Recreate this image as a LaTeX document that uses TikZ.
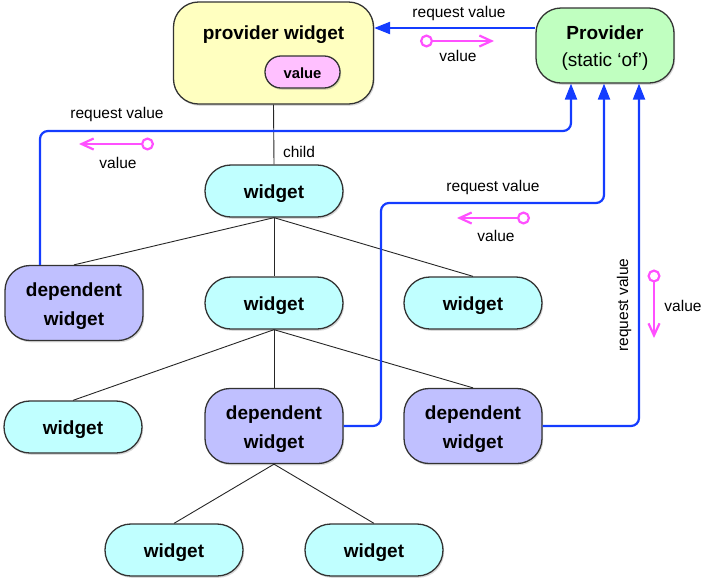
\documentclass[tikz,border=0pt]{standalone}
\usepackage{fontspec}
\setmainfont{Liberation Sans}
\usetikzlibrary{arrows.meta,shadows}
\definecolor{cw}{RGB}{192,255,255}
\definecolor{cd}{RGB}{192,192,255}
\definecolor{cp}{RGB}{192,255,192}
\definecolor{cy}{RGB}{255,255,192}
\definecolor{cv}{RGB}{255,192,255}
\definecolor{cblue}{RGB}{20,60,255}
\definecolor{cpink}{RGB}{255,80,255}
\begin{document}
\begin{tikzpicture}[x=1pt,y=-1pt,
  base/.style={draw=black!80, line width=1.3pt, align=center, inner sep=0pt,
    drop shadow={shadow xshift=1.2pt, shadow yshift=-1.8pt, opacity=0.3}},
  wbox/.style={base, fill=cw, minimum width=138pt, minimum height=52pt,
    rounded corners=25.9pt, font=\bfseries\fontsize{19}{29}\selectfont,
    text height=14.7pt, text depth=0pt},
  dbox/.style={base, fill=cd, minimum width=138pt, minimum height=75pt,
    rounded corners=25pt, font=\bfseries\fontsize{19}{29}\selectfont,
    text height=44pt, text depth=0pt},
  pwbox/.style={base, fill=cy, minimum width=200pt, minimum height=102pt, rounded corners=25pt},
  provbox/.style={base, fill=cp, minimum width=138pt, minimum height=75pt, rounded corners=25pt},
  valbox/.style={base, fill=cv, minimum width=75pt, minimum height=32pt,
    rounded corners=15.9pt, font=\bfseries\fontsize{14.8}{18}\selectfont,
    text height=13.6pt, text depth=0pt},
  title/.style={font=\bfseries\fontsize{19}{23}\selectfont, inner sep=0pt},
  sub/.style={font=\fontsize{19}{23}\selectfont, inner sep=0pt},
  lbl/.style={font=\fontsize{15.5}{18}\selectfont, inner sep=0pt},
  tree/.style={draw=black!85, line width=0.9pt},
  req/.style={draw=cblue, line width=2.2pt, rounded corners=8pt, -{Triangle[length=16pt,width=12pt]}},
  val/.style={draw=cpink, line width=2.2pt, {Circle[open,length=13pt,width=13pt]}-{Straight Barb[length=12pt,width=11pt]}}
]
\useasboundingbox (0,0) rectangle (712,582);

% nodes
\node[pwbox] (pw) at (273.5,53) {};
\node[title] (pwt) at (273.5,34.5) {provider widget};
\node[valbox] (vbox) at (302.5,72) {value};
\node[provbox] (prov) at (605,45.5) {};
\node[title] (provt) at (605,33) {Provider};
\node[sub] (provs) at (605,62) {(static ‘of’)};

\node[wbox] (w1) at (274,191) {widget};
\node[dbox] (depL) at (74,303) {dependent\\widget};
\node[wbox] (wM) at (274,303) {widget};
\node[wbox] (wR) at (473,303) {widget};
\node[wbox] (wBL) at (73,427) {widget};
\node[dbox] (depM) at (274,426) {dependent\\widget};
\node[dbox] (depR) at (473,426) {dependent\\widget};
\node[wbox] (wB1) at (174,550) {widget};
\node[wbox] (wB2) at (374,550) {widget};

% tree
\draw[tree] (pw.south) -- (w1.north);
\node[lbl] (childlbl) at (299,152) {child};
\draw[tree] (w1.south) -- (depL.north);
\draw[tree] (w1.south) -- (wM.north);
\draw[tree] (w1.south) -- (wR.north);
\draw[tree] (wM.south) -- (wBL.north);
\draw[tree] (wM.south) -- (depM.north);
\draw[tree] (wM.south) -- (depR.north);
\draw[tree] (depM.south) -- (wB1.north);
\draw[tree] (depM.south) -- (wB2.north);

% request 1: provider -> provider widget
\draw[req] (prov.west |- 0,28) -- (pw.east |- 0,28);
\node[lbl] (r1) at (459,13.5) {request value};
\coordinate (v1a) at (420,41);
\coordinate (v1b) at (494,41);
\draw[val] (v1a) -- (v1b);
\node[lbl] (v1) at (458,56) {value};

% request 2: left dependent widget
\draw[req] ([xshift=-34pt]depL.north) |- ([xshift=-34pt]prov.south |- 0,131) -- ([xshift=-34pt]prov.south);
\node[lbl] (r2) at (117,114) {request value};
\coordinate (v2a) at (154,144);
\coordinate (v2b) at (79,144);
\draw[val] (v2a) -- (v2b);
\node[lbl] (v2) at (118,163) {value};

% request 3: middle dependent widget
\draw[req] (depM.east) -| (381,203) -- ([xshift=-1pt]prov.south |- 0,203) -- ([xshift=-1pt]prov.south);
\node[lbl] (r3) at (493,187) {request value};
\coordinate (v3a) at (530,218);
\coordinate (v3b) at (457,218);
\draw[val] (v3a) -- (v3b);
\node[lbl] (v3) at (496,236) {value};

% request 4: right dependent widget
\draw[req] (depR.east) -| ([xshift=34pt]prov.south);
\node[lbl, rotate=90] (r4) at (624,305) {request value};
\coordinate (v4a) at (654,269.5);
\coordinate (v4b) at (654,338);
\draw[val] (v4a) -- (v4b);
\node[lbl] (v4) at (683,306) {value};
\end{tikzpicture}
\end{document}
